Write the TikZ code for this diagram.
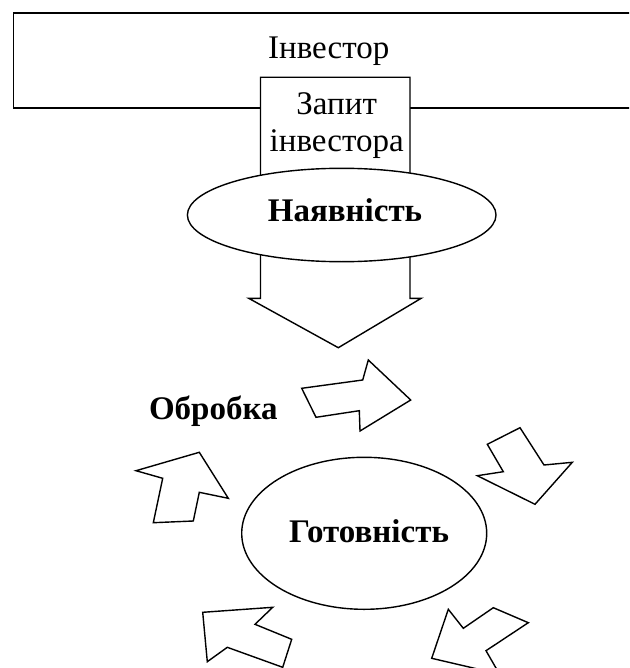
\documentclass[tikz,border=0pt]{standalone}
\usepackage{fontspec}
\setmainfont{Liberation Serif}
\usetikzlibrary{shapes.geometric}
\begin{document}
\begin{tikzpicture}[x=1pt,y=-1pt,
  line width=1.4pt, line join=miter,
  blockarrow/.style={draw=black, fill=white, line width=1.4pt},
  lbl/.style={font=\fontsize{33}{38}\selectfont, inner sep=0pt, anchor=base},
  blbl/.style={font=\fontsize{33}{38}\selectfont\bfseries, inner sep=0pt, anchor=base},
  oval/.style={draw=black, ellipse, fill=white, inner sep=0pt, line width=1.4pt},
  boxstyle/.style={draw=black, rectangle, inner sep=0pt, line width=1.4pt, anchor=north west}]
\useasboundingbox (0,0) rectangle (629,668);
\clip (0,0) rectangle (629,668);
% investor box (extends beyond right edge)
\node[boxstyle, minimum width=650pt, minimum height=95pt] (investor) at (13,12.3) {};
\node[lbl] (investortext) at (328.7,58.3) {Інвестор};
% request block arrow
\draw[blockarrow] (260.5,77.3) -- (410,77.3) -- (410,298.3) -- (421.2,298.3)
  -- (338.3,347.7) -- (248.7,298.3) -- (260.5,298.3) -- cycle;
\node[lbl] (req1) at (336.7,114.3) {Запит};
\node[lbl] (req2) at (336.7,151.7) {інвестора};
% availability ellipse
\node[oval, minimum width=308.6pt, minimum height=93.4pt] (avail) at (341.7,215) {};
\node[blbl] (availtext) at (345,221.7) {Наявність};
% processing label
\node[blbl] (proc) at (213.3,419.5) {Обробка};
% readiness ellipse
\node[oval, minimum width=245pt, minimum height=152pt] (ready) at (364.2,533.3) {};
\node[blbl] (readytext) at (369,542.7) {Готовність};
% cycle arrows
\draw[blockarrow] (301.7,388.3) -- (362.7,380) -- (368.3,360) -- (410.7,400)
  -- (360,431) -- (359.3,410.7) -- (316,417.3) -- cycle;
\draw[blockarrow] (487.3,444.3) -- (520,427.7) -- (544,465) -- (572.3,462.3)
  -- (535,504.3) -- (477.3,475.7) -- (503.3,471.7) -- cycle;
\draw[blockarrow] (136,470.7) -- (199.3,452.3) -- (228.3,498.3) -- (199.3,492.3)
  -- (193.3,521) -- (153.3,522.7) -- (162.7,478.3) -- cycle;
\draw[blockarrow] (202.7,612.3) -- (272.7,607.3) -- (255,624.3) -- (291.7,639.3)
  -- (282.7,667.3) -- (227.3,647.3) -- (207.3,661.7) -- cycle;
\draw[blockarrow] (431.7,658.3) -- (448.3,609.3) -- (463.3,628.3) -- (493.3,607.7)
  -- (528.3,622.7) -- (486,650.7) -- (499.5,674.1) -- cycle;
\end{tikzpicture}
\end{document}
